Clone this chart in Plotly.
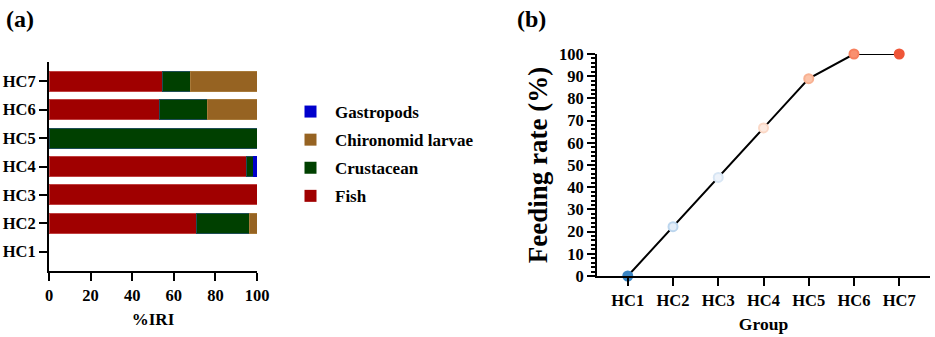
import plotly.graph_objects as go

groups = ["HC1", "HC2", "HC3", "HC4", "HC5", "HC6", "HC7"]
fish = [0, 71.0, 100, 95.0, 0, 53.2, 54.5]
crustacean = [0, 25.6, 0, 3.1, 100, 22.9, 13.6]
chironomid = [0, 3.4, 0, 0, 0, 23.9, 31.9]
gastropods = [0, 0, 0, 1.9, 0, 0, 0]

feeding_rate = [0, 22.2, 44.4, 66.7, 88.9, 100, 100]
marker_fill = ["#3a85c4", "#e4eef9", "#eef3fa", "#fdeae0", "#fcc3a8", "#f9906f", "#ef5638"]
marker_edge = ["#3a85c4", "#bcd6ee", "#d8e6f4", "#fbd8c6", "#f8b192", "#f7805e", "#ef5638"]

FONT = "Times New Roman, Liberation Serif, serif"
fig = go.Figure()

series = [
    ("Fish", fish, "#a00000", "#c04040", 4),
    ("Crustacean", crustacean, "#004000", "#1e4d55", 3),
    ("Chironomid larvae", chironomid, "#966322", "#a87a3a", 2),
    ("Gastropods", gastropods, "#0000cc", "#0000cc", 1),
]
for name, vals, col, edge, rank in series:
    fig.add_trace(go.Bar(
        y=groups, x=vals, name=name, orientation="h",
        marker=dict(color=col, line=dict(color=edge, width=[1 if v > 0 else 0 for v in vals])),
        xaxis="x", yaxis="y", legendgroup=name, legendrank=rank,
    ))

fig.add_trace(go.Scatter(
    x=groups, y=feeding_rate, mode="lines+markers",
    line=dict(color="black", width=2),
    marker=dict(size=9, color=marker_fill, line=dict(color=marker_edge, width=2)),
    xaxis="x2", yaxis="y2", showlegend=False, cliponaxis=False,
))

tickfont = dict(family=FONT, size=16.5, color="black", weight="bold")
axline = dict(showline=True, linecolor="black", linewidth=2, ticks="outside",
              ticklen=8, tickwidth=2, tickcolor="black", showgrid=False, zeroline=False,
              automargin=False)

fig.update_layout(
    width=935, height=337, margin=dict(l=0, r=0, t=0, b=0, autoexpand=False),
    paper_bgcolor="white", plot_bgcolor="white",
    barmode="stack", bargap=0.3,
    font=dict(family=FONT, color="black"),
    xaxis=dict(domain=[49/935, 257/935], range=[0, 100], dtick=20, tickfont=tickfont,
               title=dict(text="%IRI", font=dict(family=FONT, size=17, weight="bold"), standoff=9),
               anchor="y", **axline),
    yaxis=dict(domain=[1-271/337, 1-62/337], range=[-0.68, 6.68], tickfont=tickfont,
               anchor="x", categoryorder="array", categoryarray=groups, **axline),
    xaxis2=dict(domain=[597/935, 930/935], range=[-0.68, 6.68], tickfont=tickfont,
                title=dict(text="Group", font=dict(family=FONT, size=17.5, weight="bold"), standoff=9),
                anchor="y2", categoryorder="array", categoryarray=groups, **axline),
    yaxis2=dict(domain=[1-276/337, 1-54/337], range=[0, 100], dtick=10, tickfont=tickfont,
                title=dict(text="Feeding rate (%)", font=dict(family=FONT, size=27, weight="bold"), standoff=4),
                minor=dict(dtick=2, ticks="outside", ticklen=4, tickwidth=1.5, tickcolor="black"),
                anchor="x2", **axline),
    legend=dict(x=286/935, y=1-94/337, xanchor="left", yanchor="top",
                traceorder="grouped", tracegroupgap=3, itemwidth=39,
                font=dict(family=FONT, size=17, color="black", weight="bold"),
                bgcolor="rgba(0,0,0,0)"),
    annotations=[
        dict(text="(a)", x=4/935, y=1-19/337, xref="paper", yref="paper", xanchor="left",
             yanchor="middle", showarrow=False, font=dict(family=FONT, size=24, weight="bold")),
        dict(text="(b)", x=515/935, y=1-19/337, xref="paper", yref="paper", xanchor="left",
             yanchor="middle", showarrow=False, font=dict(family=FONT, size=24, weight="bold")),
    ],
)

fig.write_html("out.html", config={"displayModeBar": False},
               post_script="document.body.style.margin='0';document.body.style.overflow='hidden';")
